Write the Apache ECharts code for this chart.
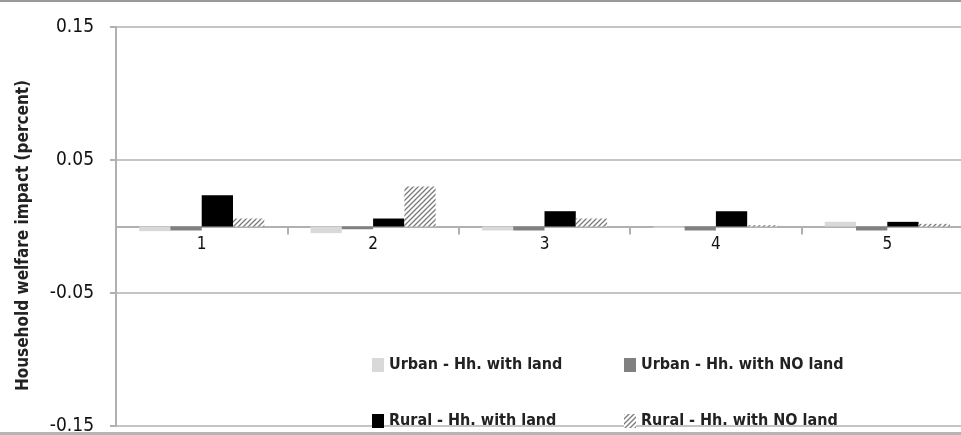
<!DOCTYPE html>
<html>
<head>
<meta charset="utf-8">
<script src="https://cdn.jsdelivr.net/npm/echarts@6/dist/echarts.min.js"></script>
<style>
  html, body { margin: 0; padding: 0; background: #fff; }
  #chart { width: 961px; height: 435px; }
</style>
</head>
<body>
<div id="chart"></div>
<script>
// Household welfare impact by group (percent)
const categories = ['1', '2', '3', '4', '5'];
const urbanWithLand = [-0.0035, -0.005, -0.003, -0.001, 0.0035];
const urbanNoLand = [-0.003, -0.002, -0.003, -0.003, -0.003];
const ruralWithLand = [0.0235, 0.006, 0.0115, 0.0115, 0.0035];
const ruralNoLand = [0.006, 0.030, 0.006, 0.001, 0.002];
const seriesNames = [
  'Urban - Hh. with land',
  'Urban - Hh. with NO land',
  'Rural - Hh. with land',
  'Rural - Hh. with NO land'
];
const yTicks = [-0.15, -0.05, 0.05, 0.15];
const yMin = -0.15, yMax = 0.15;

// Hatched fill for the last series
function makeHatch() {
  const c = document.createElement('canvas');
  c.width = 5; c.height = 5;
  const g = c.getContext('2d');
  g.fillStyle = '#ffffff';
  g.fillRect(0, 0, 5, 5);
  g.strokeStyle = '#7a7a7a';
  g.lineWidth = 1.3;
  g.beginPath();
  g.moveTo(-1, 6); g.lineTo(6, -1);
  g.moveTo(-1, 1); g.lineTo(1, -1);
  g.moveTo(4, 6); g.lineTo(6, 4);
  g.stroke();
  return c;
}
const hatch = { image: makeHatch(), repeat: 'repeat' };

const fontFamily = '"Liberation Sans Narrow", "DejaVu Sans Condensed", sans-serif';
const colors = ['#d9d9d9', '#808080', '#000000', hatch];

const chartHeight = 435, gridTop = 27, gridBottom = 9;
// Lift the category axis (line, ticks and labels) up to the zero value
const plotHeight = chartHeight - gridTop - gridBottom;
const zeroOffset = -plotHeight * (0 - yMin) / (yMax - yMin);

const chart = echarts.init(document.getElementById('chart'));

function legendAt(i, left, top) {
  return {
    data: [seriesNames[i]],
    left: left, top: top,
    padding: 0,
    itemWidth: 12, itemHeight: 14,
    itemGap: 4,
    icon: 'rect',
    textStyle: { fontFamily, fontSize: 16, fontWeight: 'bold', color: '#222' }
  };
}

chart.setOption({
  animation: false,
  graphic: [
    { type: 'rect', shape: { x: 0, y: 0, width: 961, height: 2 }, style: { fill: '#9a9a9a' } },
    { type: 'rect', shape: { x: 0, y: 432, width: 961, height: 3 }, style: { fill: '#b5b5b5' } }
  ],
  grid: { left: 116, right: -12, top: gridTop, bottom: gridBottom, containLabel: false, outerBoundsMode: 'none' },
  legend: [
    legendAt(0, 372, 357),
    legendAt(1, 624, 357),
    legendAt(2, 372, 413),
    legendAt(3, 624, 413)
  ],
  xAxis: {
    type: 'category',
    data: categories,
    position: 'bottom',
    offset: zeroOffset,
    axisLine: { onZero: false, lineStyle: { color: '#b0b0b0', width: 2 } },
    axisTick: { show: true, length: 8, lineStyle: { color: '#b0b0b0', width: 2 } },
    axisLabel: { margin: 10, fontFamily, fontSize: 17, color: '#111' },
    splitLine: { show: false }
  },
  yAxis: {
    type: 'value',
    min: yMin, max: yMax, interval: 0.1,
    name: 'Household welfare impact (percent)',
    nameLocation: 'middle',
    nameGap: 84,
    nameRotate: 90,
    nameTextStyle: { fontFamily, fontSize: 17, fontWeight: 'bold', color: '#222', padding: [0, 0, 0, -18] },
    axisLine: { show: true, lineStyle: { color: '#b0b0b0', width: 2 } },
    axisTick: { show: true, length: 6, lineStyle: { color: '#b0b0b0', width: 2 } },
    axisLabel: {
      margin: 22, fontFamily, fontSize: 19, color: '#111',
      formatter: v => {
        const m = yTicks.find(t => Math.abs(t - v) < 1e-9);
        return m === undefined ? '' : m.toFixed(2);
      }
    },
    splitLine: { show: true, lineStyle: { color: '#c4c4c4', width: 2 } }
  },
  series: [urbanWithLand, urbanNoLand, ruralWithLand, ruralNoLand].map((d, i) => ({
    name: seriesNames[i],
    type: 'bar',
    data: d,
    barGap: '0%',
    barCategoryGap: '27%',
    itemStyle: { color: colors[i] }
  }))
});
</script>
</body>
</html>
